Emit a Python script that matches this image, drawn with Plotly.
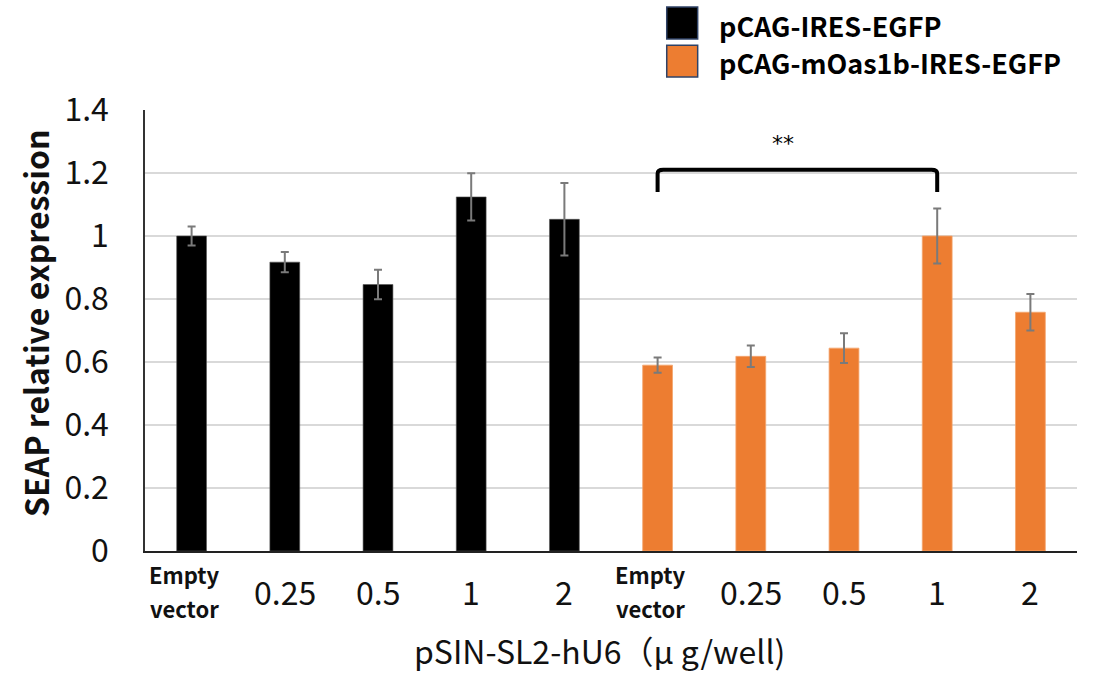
import plotly.graph_objects as go

# ---- data ----
tick_labels = ["Empty<br>vector", "0.25", "0.5", "1", "2",
               "Empty<br>vector", "0.25", "0.5", "1", "2"]
series_names = ["pCAG-IRES-EGFP", "pCAG-mOas1b-IRES-EGFP"]
ctrl_values = [1.00, 0.917, 0.846, 1.124, 1.053]
ctrl_errors = [0.030, 0.032, 0.047, 0.075, 0.115]
oas_values = [0.590, 0.618, 0.644, 1.000, 0.758]
oas_errors = [0.024, 0.034, 0.047, 0.087, 0.058]
y_ticks = [0, 0.2, 0.4, 0.6, 0.8, 1, 1.2, 1.4]
y_tick_text = ["0", "0.2", "0.4", "0.6", "0.8", "1", "1.2", "1.4"]
sig_pair = (5, 8)
sig_label = "**"
sig_height = 1.21

colors = ["#000000", "#ED7D31"]
FONT = "Noto Sans CJK JP"

x_ctrl = list(range(len(ctrl_values)))
x_oas = list(range(len(ctrl_values), len(ctrl_values) + len(oas_values)))

fig = go.Figure()
fig.add_trace(go.Bar(
    x=x_ctrl, y=ctrl_values, name=series_names[0], width=0.32,
    marker=dict(color=colors[0], line=dict(color="#555555", width=0.6)),
    error_y=dict(type="data", array=ctrl_errors, color="#7a7a7a", thickness=2, width=4),
    showlegend=False))
fig.add_trace(go.Bar(
    x=x_oas, y=oas_values, name=series_names[1], width=0.32,
    marker=dict(color=colors[1], line=dict(color="#F4A66E", width=0.8)),
    error_y=dict(type="data", array=oas_errors, color="#7a7a7a", thickness=2, width=4),
    showlegend=False))

annotations = []
# x tick labels
split_y = -0.0907
for i, lab in enumerate(tick_labels):
    if "<br>" in lab:
        top, bottom = lab.split("<br>")
        annotations.append(dict(x=i - 0.08, y=split_y, xref="x", yref="paper", text="<b>" + top + "</b>",
                                showarrow=False, yanchor="bottom", xanchor="center", borderpad=0,
                                font=dict(family=FONT, size=22, color="#111111")))
        annotations.append(dict(x=i - 0.08, y=split_y, xref="x", yref="paper", text="<b>" + bottom + "</b>",
                                showarrow=False, yanchor="top", xanchor="center", borderpad=0,
                                font=dict(family=FONT, size=22, color="#111111")))
    else:
        annotations.append(dict(x=i, y=split_y, xref="x", yref="paper", text=lab,
                                showarrow=False, yanchor="middle", xanchor="center",
                                font=dict(family=FONT, size=32, color="#111111")))
# axis titles
annotations.append(dict(x=0.488, y=-0.2245, xref="paper", yref="paper",
                        text="pSIN-SL2-hU6（μ g/well)", showarrow=False,
                        yanchor="middle", xanchor="center",
                        font=dict(family=FONT, size=32, color="#111111")))
annotations.append(dict(x=-0.118, y=0.515, xref="paper", yref="paper",
                        text="<b>SEAP relative expression</b>", showarrow=False, textangle=-90,
                        yanchor="middle", xanchor="center",
                        font=dict(family=FONT, size=32, color="#111111")))
# significance
a, b = sig_pair
annotations.append(dict(x=(a + b) / 2 - 0.15, y=sig_height + 0.085, xref="x", yref="y",
                        text=sig_label, showarrow=False, yanchor="middle",
                        font=dict(family="DejaVu Sans", size=22, color="#000000")))
# legend texts
leg_y = [1.1927, 1.1088]
for name, yy in zip(series_names, leg_y):
    annotations.append(dict(x=0.614, y=yy, xref="paper", yref="paper", text="<b>" + name + "</b>",
                            showarrow=False, xanchor="left", yanchor="middle",
                            font=dict(family=FONT, size=27, color="#000000")))

shapes = []
# bracket
h = 0.07
shapes.append(dict(type="path", xref="x", yref="y",
                   path=f"M {a},{sig_height - h} L {a},{sig_height - 0.012} Q {a},{sig_height} {a + 0.06},{sig_height} "
                        f"L {b - 0.06},{sig_height} Q {b},{sig_height} {b},{sig_height - 0.012} L {b},{sig_height - h}",
                   line=dict(color="#000000", width=4)))
# legend squares
sq = [(1.2336, 1.161), (1.147, 1.075)]
for c, (y1, y0) in zip(colors, sq):
    shapes.append(dict(type="rect", xref="paper", yref="paper", x0=0.5598, x1=0.593, y0=y0, y1=y1,
                       fillcolor=c, line=dict(color="#2F4266", width=1.5)))

fig.update_layout(
    width=1100, height=675,
    margin=dict(l=145, r=23, t=110, b=124),
    paper_bgcolor="white", plot_bgcolor="white",
    barmode="overlay",
    xaxis=dict(range=[-0.5, 9.5], showticklabels=False, showgrid=False, zeroline=False,
               showline=True, linecolor="#222222", linewidth=2, ticks=""),
    yaxis=dict(range=[0, 1.4], tickvals=y_ticks, ticktext=y_tick_text,
               showgrid=True, gridcolor="#D9D9D9", gridwidth=1.5, zeroline=False,
               showline=True, linecolor="#333333", linewidth=1.5, ticks="",
               ticklabelstandoff=28,
               tickfont=dict(family=FONT, size=32, color="#111111")),
    annotations=annotations, shapes=shapes,
)

fig.write_html("out.html", config={"displayModeBar": False},
               post_script="document.body.style.margin='0';")
